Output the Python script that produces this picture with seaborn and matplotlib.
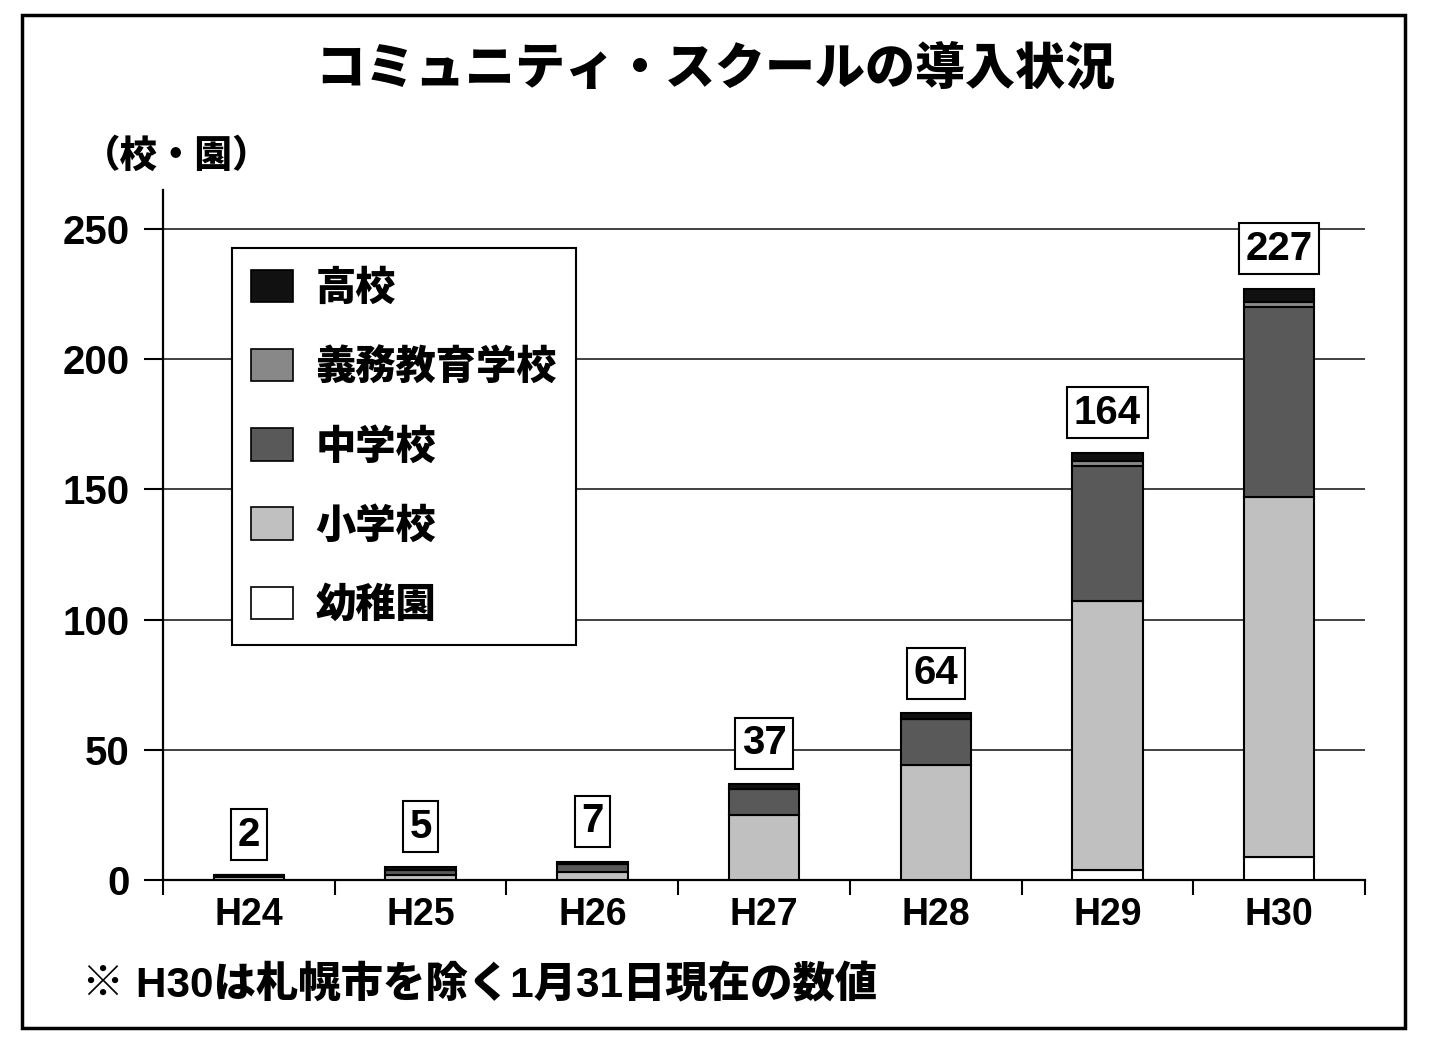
import numpy as np
import pandas as pd
import seaborn as sns
import matplotlib.pyplot as plt
from matplotlib.patches import Patch, Rectangle

years = ['H24', 'H25', 'H26', 'H27', 'H28', 'H29', 'H30']
totals = [2, 5, 7, 37, 64, 164, 227]

# bottom -> top stacking order
kinds = ['幼稚園', '小学校', '中学校', '義務教育学校', '高校']
youchien = [0, 0, 0, 0, 0, 4, 9]
shogakko = [1, 2, 3, 25, 44, 103, 138]
chugakko = [1, 2, 3, 10, 18, 52, 73]
gimu = [0, 0, 0, 0, 0, 2, 2]
koko = [0, 1, 1, 2, 2, 3, 5]
colors = {'幼稚園': '#ffffff', '小学校': '#c0c0c0', '中学校': '#595959',
          '義務教育学校': '#888888', '高校': '#111111'}

df = pd.DataFrame({'year': years, '幼稚園': youchien, '小学校': shogakko,
                   '中学校': chugakko, '義務教育学校': gimu, '高校': koko})

sns.set_theme(style='white')
plt.rcParams['font.family'] = ['Noto Sans CJK JP', 'DejaVu Sans']
plt.rcParams['font.weight'] = 'bold'
plt.rcParams['text.color'] = 'black'
plt.rcParams['xtick.labelcolor'] = 'black'
plt.rcParams['ytick.labelcolor'] = 'black'

LATIN = ['Liberation Sans', 'Noto Sans CJK JP']

fig = plt.figure(figsize=(14.3, 10.51), dpi=100)
ax = fig.add_axes([0.114, 0.1627, 0.8406, 0.6565])

bottom = np.zeros(len(years))
for k in kinds:
    vals = df[k].values
    sns.barplot(x=df['year'], y=vals, bottom=bottom, color=colors[k],
                edgecolor='black', linewidth=1.5, width=0.41, saturation=1,
                ax=ax, zorder=3)
    bottom = bottom + vals

ax.set_xlim(-0.5, len(years) - 0.5)
ax.set_ylim(0, 265)
ax.set_yticks([0, 50, 100, 150, 200, 250])
ax.yaxis.grid(True, color='#333333', linewidth=1.3, zorder=0)
ax.set_axisbelow(True)
ax.set_xlabel('')
ax.set_ylabel('')

for s in ['top', 'right']:
    ax.spines[s].set_visible(False)
for s in ['left', 'bottom']:
    ax.spines[s].set_color('black')
    ax.spines[s].set_linewidth(1.6)

ax.set_xticks(np.arange(-0.5, len(years)), minor=True)
ax.tick_params(axis='x', which='major', length=0, pad=12)
ax.tick_params(axis='x', which='minor', length=11, width=1.5, color='black',
               direction='out', bottom=True)
ax.tick_params(axis='y', length=14, width=1.5, color='black', direction='out',
               left=True, pad=10)
for lab in ax.get_xticklabels():
    lab.set_fontfamily(LATIN)
    lab.set_fontsize(27)
    lab.set_fontweight('bold')
for lab in ax.get_yticklabels():
    lab.set_fontfamily(LATIN)
    lab.set_fontsize(29)
    lab.set_fontweight('bold')

for i, t in enumerate(totals):
    ax.annotate(str(t), xy=(i, bottom[i]), xytext=(0, 29), textcoords='offset points',
                ha='center', va='center', fontsize=29, fontweight='bold',
                family=LATIN,
                bbox=dict(boxstyle='square,pad=0.16', fc='white', ec='black', lw=1.5),
                zorder=5)

handles = [Patch(facecolor=colors[k], edgecolor='black', linewidth=1.2, label=k)
           for k in kinds[::-1]]
leg = ax.legend(handles=handles, loc='upper left', bbox_to_anchor=(0.057, 0.916),
                fancybox=False, edgecolor='black', framealpha=1,
                prop={'size': 29, 'weight': 'black'},
                handlelength=1.05, handleheight=0.85, labelspacing=0.92,
                borderpad=0.48, handletextpad=0.55, borderaxespad=0)
leg.get_frame().set_linewidth(1.5)

fig.text(0.5, 0.935, 'コミュニティ・スクールの導入状況', ha='center', va='center',
         fontsize=36, fontweight='black')
fig.text(0.058, 0.852, '（校・園）', ha='left', va='center', fontsize=27,
         fontweight='black')
fig.text(0.057, 0.062, '※ H30は札幌市を除く1月31日現在の数値', ha='left',
         va='center', fontsize=30.5, fontweight='black', family=LATIN)

fig.patches.append(Rectangle((0.0154, 0.0219), 0.967, 0.964, transform=fig.transFigure,
                             fill=False, edgecolor='black', linewidth=2.5))

fig.savefig('out.png', dpi=100)
